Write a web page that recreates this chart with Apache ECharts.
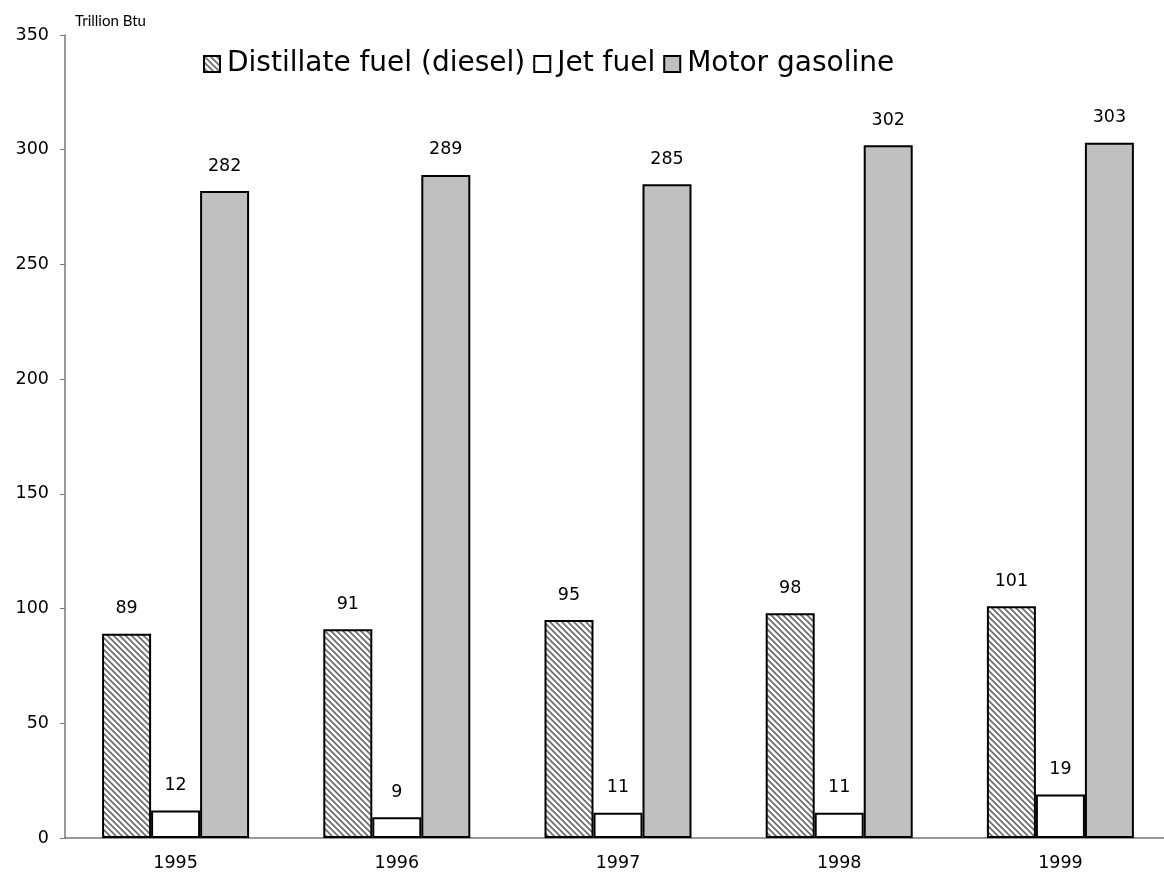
<!DOCTYPE html>
<html><head><meta charset="utf-8">
<script src="https://cdn.jsdelivr.net/npm/echarts@6/dist/echarts.min.js"></script>
<style>html,body{margin:0;padding:0;background:#fff;overflow:hidden;width:1164px;height:884px}#c{width:1171px;height:884px}</style>
</head><body><div id="c"></div>
<script>
const years = ['1995','1996','1997','1998','1999'];
const diesel = [89, 91, 95, 98, 101];
const jet = [12, 9, 11, 11, 19];
const gasoline = [282, 289, 285, 302, 303];
const seriesNames = ['Distillate fuel (diesel)', 'Jet fuel', 'Motor gasoline'];

function hatch() {
  const c = document.createElement('canvas');
  c.width = 6; c.height = 6;
  const g = c.getContext('2d');
  g.fillStyle = '#ffffff'; g.fillRect(0,0,6,6);
  g.strokeStyle = '#6a6a6a'; g.lineWidth = 1.6;
  g.beginPath();
  g.moveTo(-1,-1); g.lineTo(7,7);
  g.moveTo(-1,5); g.lineTo(1,7);
  g.moveTo(5,-1); g.lineTo(7,1);
  g.stroke();
  return c;
}
const font = '"DejaVu Sans", Lato, sans-serif';
const chart = echarts.init(document.getElementById('c'), null, {renderer:'canvas'});
const lbl = {show:true, position:'top', distance:16, color:'#000', fontSize:17.5, fontFamily:font};
const base = {type:'bar', barWidth:49, barGap:'0%', label:lbl};
chart.setOption({
  animation:false,
  backgroundColor:'#fff',
  textStyle:{fontFamily:font},
  grid:{left:65, right:0, top:35, bottom:46, containLabel:false},
  title:{text:'Trillion Btu', left:70, top:9, textStyle:{fontSize:15, fontWeight:'normal', color:'#000', fontFamily:'Lato, sans-serif'}},
  legend:{
    data:seriesNames, left:198, top:45, itemWidth:16, itemHeight:16, itemGap:8,
    icon:'rect',
    textStyle:{fontSize:28, color:'#000', fontFamily:font, padding:[0,0,0,2]}
  },
  xAxis:{type:'category', data:years,
    axisLine:{lineStyle:{color:'#777', width:1.5}}, axisTick:{show:false},
    axisLabel:{color:'#000', fontSize:17.5, margin:16, fontFamily:font}},
  yAxis:{type:'value', min:0, max:350, interval:50,
    splitLine:{show:false},
    axisLine:{show:true, lineStyle:{color:'#777', width:1.5}},
    axisTick:{show:true, length:5, lineStyle:{color:'#777'}},
    axisLabel:{color:'#000', fontSize:17.5, margin:16, fontFamily:font}},
  series:[
    Object.assign({}, base, {name:seriesNames[0], data:diesel,
      itemStyle:{color:{image:hatch(), repeat:'repeat'}, borderColor:'#000', borderWidth:2}}),
    Object.assign({}, base, {name:seriesNames[1], data:jet,
      itemStyle:{color:'#ffffff', borderColor:'#000', borderWidth:2}}),
    Object.assign({}, base, {name:seriesNames[2], data:gasoline,
      itemStyle:{color:'#c0c0c0', borderColor:'#000', borderWidth:2}})
  ]
});
</script></body></html>
